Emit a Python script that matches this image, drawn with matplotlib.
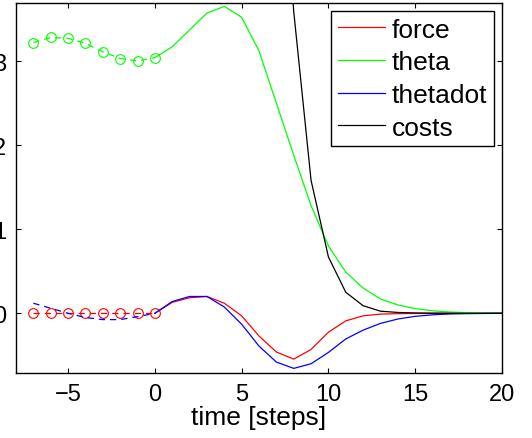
import numpy as np
import matplotlib.pyplot as plt

plt.rcParams['font.family'] = ['Liberation Sans', 'DejaVu Sans']

# observed history (t = -7..0)
t_past = np.arange(-7, 1)
force_past = [0, 0, 0, 0, 0, 0, 0, 0]
theta_past = [3.22, 3.28, 3.27, 3.21, 3.11, 3.03, 3.00, 3.04]
thetadot_past = [0.12, 0.06, 0.0, -0.05, -0.075, -0.075, -0.04, 0.0]

# planned trajectory (t = 0..20)
t_plan = np.arange(0, 21)
force = [0, 0.13, 0.185, 0.2, 0.12, -0.03, -0.27, -0.46, -0.545, -0.43, -0.225,
         -0.09, -0.03, -0.01, -0.004, -0.002, -0.001, 0, 0, 0, 0]
theta = [3.04, 3.17, 3.37, 3.57, 3.65, 3.52, 3.12, 2.50, 1.88, 1.28, 0.80,
         0.49, 0.30, 0.17, 0.10, 0.056, 0.03, 0.015, 0.008, 0.004, 0.002]
thetadot = [0, 0.14, 0.2, 0.2, 0.075, -0.13, -0.39, -0.58, -0.655, -0.6, -0.465,
            -0.305, -0.2, -0.12, -0.068, -0.036, -0.018, -0.008, -0.004, -0.002, 0]
costs = [95, 80, 62, 45, 30, 19, 11, 6.5, 3.59, 1.58, 0.67,
         0.25, 0.09, 0.025, 0.01, 0.004, 0.002, 0.001, 0, 0, 0]

fig = plt.figure(figsize=(5.32, 4.39), dpi=100)
ax = fig.add_axes([16/532, 1-374/439, (502-16)/532, (374-4)/439])

lw = 0.9
mk = dict(marker='o', markersize=7, markerfacecolor='none', markeredgewidth=0.8)
ax.plot(t_past, force_past, '--', color='r', lw=lw, dashes=(5, 4), **mk)
ax.plot(t_past, theta_past, '--', color=(0, 1, 0), lw=lw, dashes=(5, 4), **mk)
ax.plot(t_past, thetadot_past, '--', color='b', lw=lw, dashes=(5, 4))

ax.plot(t_plan, force, color='r', lw=lw, label='force')
ax.plot(t_plan, theta, color=(0, 1, 0), lw=lw, label='theta')
ax.plot(t_plan, thetadot, color='b', lw=lw, label='thetadot')
ax.plot(t_plan, costs, color='k', lw=lw, label='costs')

ax.set_xlim(-8, 20)
ax.set_ylim(-0.71, 3.69)
ax.set_xticks([-5, 0, 5, 10, 15, 20])
ax.set_yticks([0, 1, 2, 3])
ax.tick_params(direction='in', top=True, right=True, length=3.5, width=0.8,
               labelsize=17, pad=7)
for s in ax.spines.values():
    s.set_linewidth(1.0)
ax.set_xlabel('time [steps]', fontsize=19, labelpad=0)

leg = ax.legend(loc='upper right', fontsize=19, frameon=True, fancybox=False,
                edgecolor='k', framealpha=1, labelspacing=0.33, handlelength=1.8,
                handletextpad=0.25, borderpad=0.25, borderaxespad=0.3)
leg.get_frame().set_linewidth(1.0)

fig.savefig('out.png', dpi=100)
